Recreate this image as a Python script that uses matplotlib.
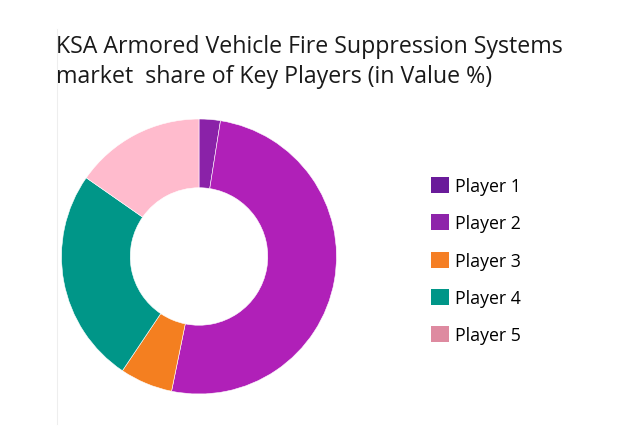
import matplotlib
matplotlib.use("Agg")
import matplotlib.pyplot as plt
from matplotlib.patches import Patch
from matplotlib.lines import Line2D

labels = ["Player 1", "Player 2", "Player 3", "Player 4", "Player 5"]
values = [2.5, 50.7, 6.2, 25.3, 15.3]
slice_colors = ["#8A22A8", "#B020B8", "#F47F20", "#009688", "#FFBBCD"]
legend_colors = ["#6A1B9A", "#8E24AA", "#F57F25", "#009688", "#DE8AA0"]
title = "KSA Armored Vehicle Fire Suppression Systems\nmarket  share of Key Players (in Value %)"

plt.rcParams['font.family'] = ['Open Sans', 'DejaVu Sans']

fig = plt.figure(figsize=(6.27, 4.27), dpi=100)
fig.patch.set_facecolor("white")

# donut: center (199, 257.5) px, radius 137.5 px
W, H = 627, 427
cx, cy, r = 199, 257.5, 137.5
ax = fig.add_axes([(cx - r) / W, 1 - (cy + r) / H, 2 * r / W, 2 * r / H])
ax.pie(values, colors=slice_colors, startangle=90, counterclock=False,
       radius=1.0, wedgeprops=dict(width=0.5, edgecolor="white", linewidth=0.4))
ax.set_xlim(-1, 1)
ax.set_ylim(-1, 1)
ax.set_aspect("equal")
ax.axis("off")

# thin left guide line
fig.add_artist(Line2D([57 / W, 57 / W], [1 - 425 / H, 1 - 30 / H],
                      color="#EEEEEE", linewidth=0.8))

fig.text(56 / W, 1 - 35 / H, title, ha="left", va="top", fontsize=16.7,
         color="#1A1A1A", linespacing=1.36)

handles = [Patch(facecolor=c, edgecolor="none") for c in legend_colors]
leg = fig.legend(handles, labels, loc="upper left",
                 bbox_to_anchor=(424 / W, 1 - 171 / H), frameon=False,
                 fontsize=12.8, handlelength=1.0, handleheight=1.0,
                 handletextpad=0.35, labelspacing=1.08, borderaxespad=0)

fig.savefig("out.png", dpi=100, facecolor="white")
